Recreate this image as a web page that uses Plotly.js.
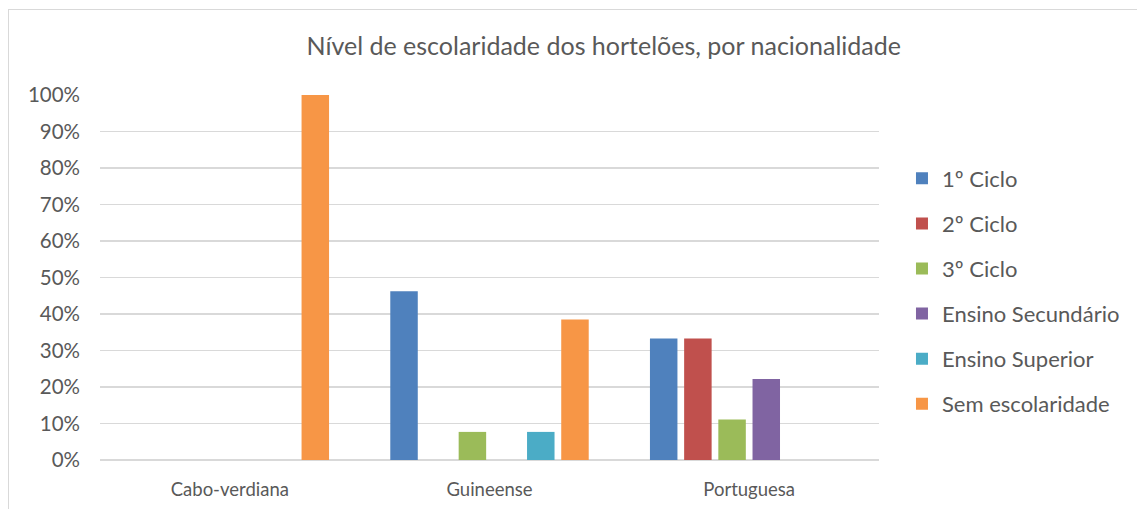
<!DOCTYPE html>
<html>
<head>
<meta charset="utf-8">
<script src="https://cdn.plot.ly/plotly-3.0.1.min.js"></script>
<style>
html,body{margin:0;padding:0;background:#fff;}
#chart{width:1137px;height:509px;position:absolute;left:0;top:0;}
#frame{position:absolute;left:8px;top:9px;width:1200px;height:600px;border-left:1px solid #D9D9D9;border-top:1px solid #D9D9D9;pointer-events:none;}
</style>
</head>
<body>
<div id="chart"></div>
<div id="frame"></div>
<script>
const categories = ["Cabo-verdiana", "Guineense", "Portuguesa"];
const seriesNames = ["1º Ciclo", "2º Ciclo", "3º Ciclo", "Ensino Secundário", "Ensino Superior", "Sem escolaridade"];
const ciclo1 = [0, 0.462, 0.333];
const ciclo2 = [0, 0, 0.333];
const ciclo3 = [0, 0.077, 0.111];
const secundario = [0, 0, 0.222];
const superior = [0, 0.077, 0];
const semEscolaridade = [1.0, 0.385, 0];
const colors = ["#4F81BD", "#C0504D", "#9BBB59", "#8064A2", "#4BACC6", "#F79646"];

const values = [ciclo1, ciclo2, ciclo3, secundario, superior, semEscolaridade];
const font = "Lato, 'Open Sans', sans-serif";
const traces = values.map((v, i) => ({
  type: "bar",
  name: seriesNames[i],
  x: categories,
  y: v,
  marker: {color: colors[i]},
  legendgroup: "g" + i
}));

const layout = {
  width: 1137, height: 509,
  margin: {l: 100, r: 256, t: 95, b: 49},
  paper_bgcolor: "#fff", plot_bgcolor: "#fff",
  font: {family: font, color: "#595959", size: 16},
  title: {text: "Nível de escolaridade dos hortelões, por nacionalidade", font: {size: 25, color: "#595959", family: font}, x: 0.531, xanchor: "center", y: 0.91, yanchor: "middle", yref: "container"},
  barmode: "group",
  bargap: 0.21,
  bargroupgap: 0.196,
  xaxis: {showgrid: false, showline: false, zeroline: false, ticks: "", tickfont: {size: 18.5}, ticklabelstandoff: 16},
  yaxis: {range: [0, 1], dtick: 0.1, tickformat: ".0%", showgrid: true, gridcolor: "#D9D9D9", gridwidth: 1.5, zeroline: true, zerolinecolor: "#D9D9D9", zerolinewidth: 1.5, showline: false, ticks: "", tickfont: {size: 20.5}, ticklabelstandoff: 19},
  showlegend: true,
  legend: {x: 1.0295, xanchor: "left", y: 0.4616, yanchor: "middle", font: {size: 22, color: "#595959"}, traceorder: "grouped", tracegroupgap: 13.5, itemwidth: 30}
};
Plotly.newPlot("chart", traces, layout, {displayModeBar: false, staticPlot: true});
</script>
</body>
</html>
